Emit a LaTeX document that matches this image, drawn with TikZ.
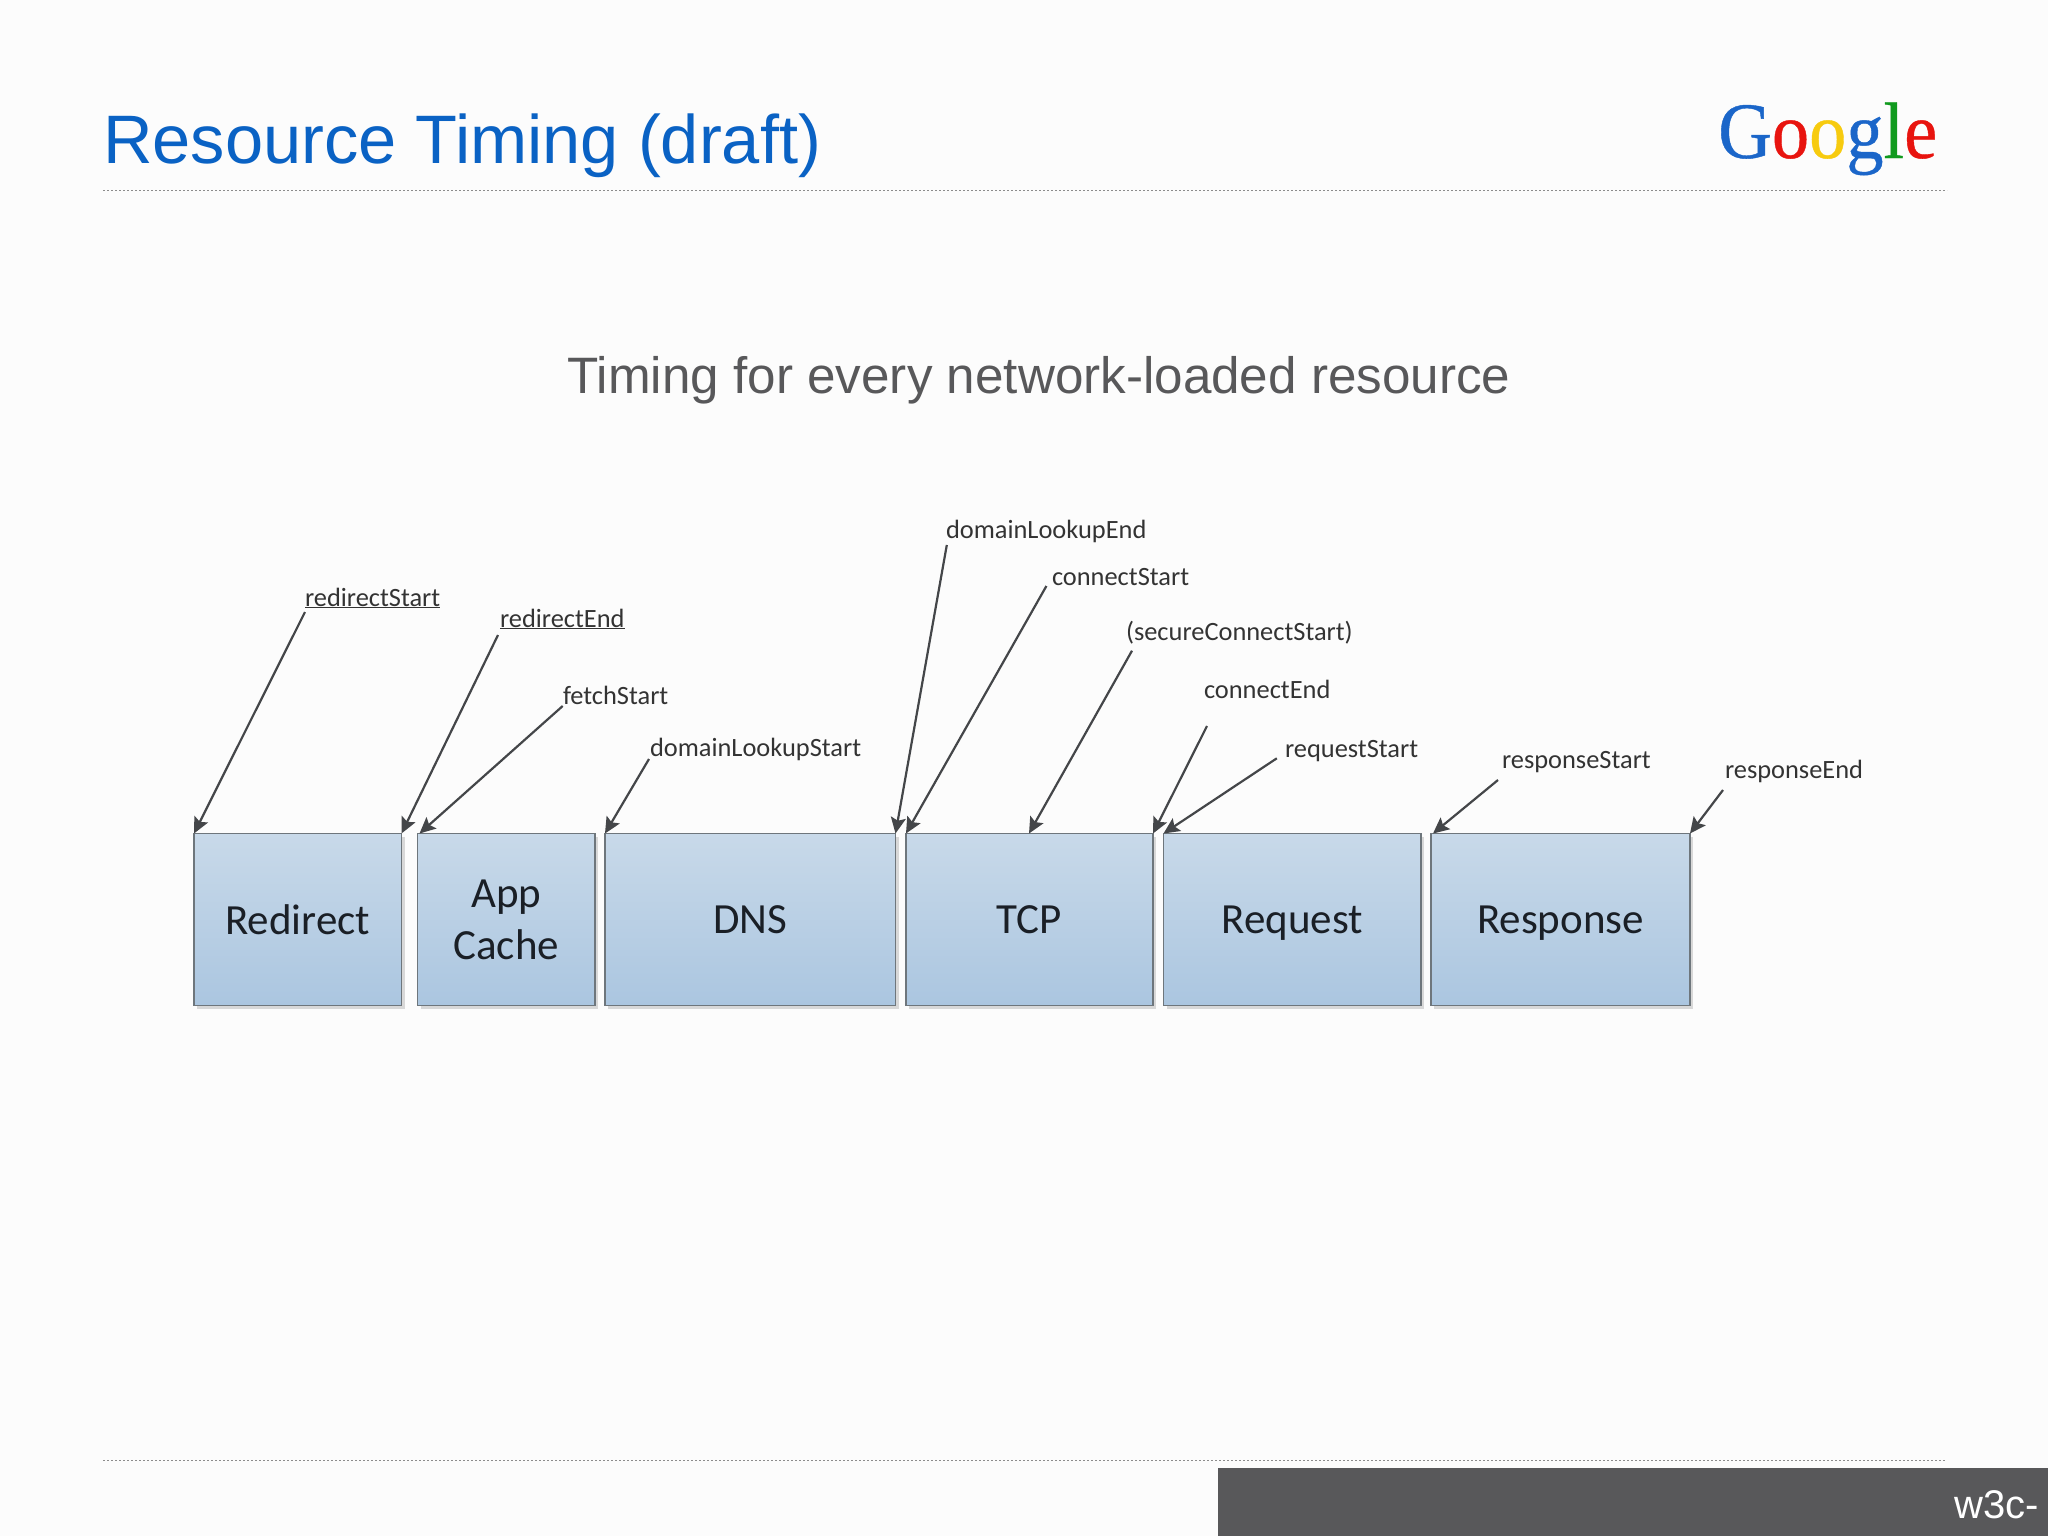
\documentclass[tikz,border=0pt]{standalone}
\usepackage{fontspec}
\setmainfont{Liberation Sans}
\newfontfamily\calibrifont{Carlito}
\newfontfamily\logofont[FakeStretch=0.93,FakeBold=0.5]{Liberation Serif}
\usetikzlibrary{positioning,arrows.meta,shadows}
\definecolor{titleblue}{HTML}{0A62C4}
\definecolor{slategrey}{HTML}{58585A}
\definecolor{boxtop}{HTML}{C8D9E9}
\definecolor{boxbottom}{HTML}{ABC6E0}
\definecolor{boxedge}{HTML}{6E767C}
\definecolor{boxtext}{HTML}{1A1F26}
\definecolor{arrowgrey}{HTML}{444649}
\definecolor{gblue}{HTML}{1B66C9}
\definecolor{gred}{HTML}{E8140F}
\definecolor{gyellow}{HTML}{F7CB0F}
\definecolor{ggreen}{HTML}{109A1E}

\begin{document}
\begin{tikzpicture}[x=1pt,y=-1pt,
		stage/.style={draw=boxedge,line width=1.9pt,top color=boxtop,bottom color=boxbottom,
			minimum height=172pt,inner sep=0pt,outer sep=0pt,align=center,text=boxtext,
			font=\calibrifont\fontsize{43}{52}\selectfont,
			drop shadow={shadow xshift=3pt,shadow yshift=-3pt,opacity=.14,fill=black}},
		mark label/.style={anchor=base west,inner sep=0pt,outer sep=0pt,text=black!80,
			font=\calibrifont\fontsize{26.4}{33}\selectfont},
		pointer/.style={-{Stealth[length=16pt,width=15pt,inset=3pt]},line width=2.2pt,draw=arrowgrey},
		rule line/.style={draw=black!45,line width=1pt,dash pattern=on 2pt off 2pt}]
	\useasboundingbox (0,0) rectangle (2048,1536);
	\fill[white!99!black] (0,0) rectangle (2048,1536);

	\node[anchor=base west,inner sep=0pt,text=titleblue,font=\fontsize{68.6}{80}\selectfont] (title) at (103,164) {Resource Timing (draft)};
	\node[anchor=base west,inner sep=0pt,font=\logofont\fontsize{80}{84}\selectfont] (logo) at (1718,158)
		{\textcolor{gblue}{G}\textcolor{gred}{o}\textcolor{gyellow}{o}\textcolor{gblue}{g}\textcolor{ggreen}{l}\textcolor{gred}{e}};
	\draw[rule line] (103,190) -- (1947,190);
	\node[anchor=base,inner sep=0pt,text=slategrey,font=\fontsize{51.2}{60}\selectfont] (subtitle) at (1039,393) {Timing for every network-loaded resource};

	\node[stage,minimum width=207.5pt] (redirect) at (297.75,919.5) {Redirect};
	\node[stage,minimum width=177.5pt,right=16pt of redirect] (appcache) {App\\Cache};
	\node[stage,minimum width=290.5pt,right=10pt of appcache] (dns) {DNS};
	\node[stage,minimum width=247pt,right=10.5pt of dns] (tcp) {TCP};
	\node[stage,minimum width=257.5pt,text depth=0pt,right=10.5pt of tcp] (request) {Request};
	\node[stage,minimum width=259pt,text depth=0pt,right=10pt of request] (response) {Response};

	\node[mark label] (redirectstart) at (305,606) {\underline{redirectStart}};
	\node[mark label] (redirectend) at (500,627) {\underline{redirectEnd}};
	\node[mark label] (fetchstart) at (563,704) {fetchStart};
	\node[mark label] (dnsstart) at (650,756) {domainLookupStart};
	\node[mark label] (dnsend) at (946,538) {domainLookupEnd};
	\node[mark label] (connectstart) at (1052,585) {connectStart};
	\node[mark label] (securestart) at (1126,640) {(secureConnectStart)};
	\node[mark label] (connectend) at (1204,698) {connectEnd};
	\node[mark label] (requeststart) at (1285,757) {requestStart};
	\node[mark label] (responsestart) at (1502,768) {responseStart};
	\node[mark label] (responseend) at (1725,778) {responseEnd};

	\coordinate (a1) at (305,612);
	\coordinate (a2) at (498,635);
	\coordinate (a3) at (562.7,706);
	\coordinate (a4) at (649,759);
	\coordinate (a5) at (946.8,545);
	\coordinate (a6) at (1046.4,586);
	\coordinate (a7) at (1132,650.7);
	\coordinate (a8) at (1207,726);
	\coordinate (a9) at (1276.8,758.3);
	\coordinate (a10) at (1498,780);
	\coordinate (a11) at (1723,790);

	\draw[pointer] (a1) -- (redirect.north west);
	\draw[pointer] (a2) -- (redirect.north east);
	\draw[pointer] (a3) -- ([xshift=2pt]appcache.north west);
	\draw[pointer] (a4) -- (dns.north west);
	\draw[pointer] (a5) -- (dns.north east);
	\draw[pointer] (a6) -- (tcp.north west);
	\draw[pointer] (a7) -- ([xshift=-.5pt]tcp.north);
	\draw[pointer] (a8) -- (tcp.north east);
	\draw[pointer] (a9) -- (request.north west);
	\draw[pointer] (a10) -- ([xshift=2pt]response.north west);
	\draw[pointer] (a11) -- (response.north east);

	\draw[rule line] (103,1460.5) -- (1946,1460.5);
	\fill[slategrey] (1218,1467.5) rectangle (2048,1536);
	\node[anchor=base west,inner sep=0pt,text=white,font=\fontsize{40}{48}\selectfont] (tag) at (1954,1518) {w3c-};
\end{tikzpicture}
\end{document}
